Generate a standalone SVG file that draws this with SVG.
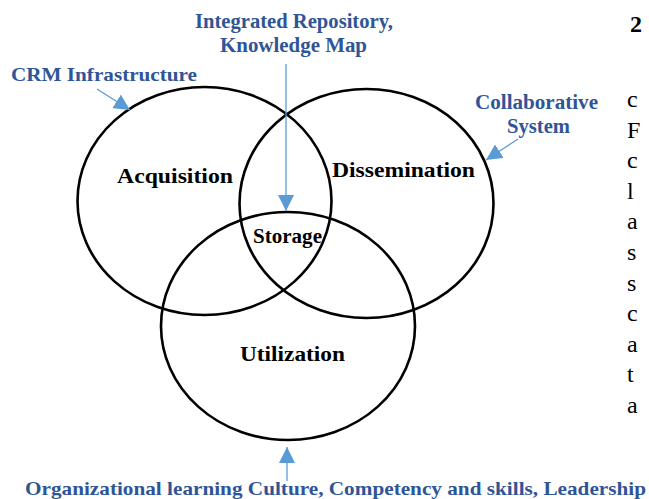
<svg xmlns="http://www.w3.org/2000/svg" width="649" height="499" viewBox="0 0 649 499">
  <style>
    .ring { fill: none; stroke: #000; stroke-width: 2.6; }
    .lbl { font-family: "Liberation Serif", "Times New Roman", serif; font-weight: bold; fill: #000; text-anchor: start; }
    .note { font-family: "Liberation Serif", "Times New Roman", serif; font-weight: bold; fill: #2F5597; }
    .body { font-family: "Liberation Serif", "Times New Roman", serif; font-size: 24px; fill: #000; }
    .conn { stroke: #5B9BD5; stroke-width: 1.3; fill: none; marker-end: url(#head); }
  </style>
  <defs>
    <marker id="head" viewBox="0 0 16 16" refX="16" refY="8" markerWidth="16" markerHeight="16" markerUnits="userSpaceOnUse" orient="auto">
      <path d="M0,0 L16,8 L0,16 z" fill="#5B9BD5"/>
    </marker>
  </defs>
  <rect width="649" height="499" fill="#fff"/>

  <!-- three overlapping knowledge-process circles -->
  <g id="acquisition">
    <ellipse class="ring" cx="204.5" cy="201" rx="127" ry="114"/>
    <text class="lbl" x="117" y="183" font-size="22" textLength="116" lengthAdjust="spacingAndGlyphs">Acquisition</text>
  </g>
  <g id="dissemination">
    <ellipse class="ring" cx="366.5" cy="203.5" rx="127" ry="114.5"/>
    <text class="lbl" x="332" y="177" font-size="22" textLength="143" lengthAdjust="spacingAndGlyphs">Dissemination</text>
  </g>
  <g id="utilization">
    <ellipse class="ring" cx="288" cy="326" rx="127" ry="114"/>
    <text class="lbl" x="240" y="361" font-size="22" textLength="105" lengthAdjust="spacingAndGlyphs">Utilization</text>
  </g>
  <g id="storage">
    <text class="lbl" x="253" y="243" font-size="20" textLength="69" lengthAdjust="spacingAndGlyphs">Storage</text>
  </g>

  <!-- enabler labels -->
  <g id="repository">
    <text class="note" x="195" y="28" font-size="20" textLength="198" lengthAdjust="spacingAndGlyphs">Integrated Repository,</text>
    <text class="note" x="220" y="52" font-size="20" textLength="147" lengthAdjust="spacingAndGlyphs">Knowledge Map</text>
  </g>
  <g id="crm">
    <text class="note" x="11" y="81" font-size="19.5" textLength="186" lengthAdjust="spacingAndGlyphs">CRM Infrastructure</text>
  </g>
  <g id="collaborative">
    <text class="note" x="475" y="109" font-size="20" textLength="123" lengthAdjust="spacingAndGlyphs">Collaborative</text>
    <text class="note" x="507" y="133" font-size="20" textLength="63" lengthAdjust="spacingAndGlyphs">System</text>
  </g>
  <g id="culture">
    <text class="note" x="25" y="495" font-size="19.5" textLength="621" lengthAdjust="spacingAndGlyphs">Organizational learning Culture, Competency and skills, Leadership</text>
  </g>

  <!-- connectors -->
  <g id="connectors">
    <line class="conn" x1="286" y1="64" x2="286" y2="211"/>
    <line class="conn" x1="97" y1="89" x2="130" y2="110"/>
    <line class="conn" x1="518" y1="139" x2="486" y2="160"/>
    <line class="conn" x1="287" y1="481" x2="287" y2="447"/>
  </g>

  <!-- page text running beside the figure -->
  <g id="page-text">
    <text x="630" y="32" font-family="Liberation Serif, serif" font-weight="bold" font-size="24">2</text>
    <text class="body" x="627" y="107">c</text>
    <text class="body" x="627" y="138">F</text>
    <text class="body" x="627" y="168">c</text>
    <text class="body" x="627" y="199">l</text>
    <text class="body" x="627" y="229">a</text>
    <text class="body" x="627" y="260">s</text>
    <text class="body" x="627" y="291">s</text>
    <text class="body" x="627" y="321">c</text>
    <text class="body" x="627" y="352">a</text>
    <text class="body" x="627" y="382">t</text>
    <text class="body" x="627" y="413">a</text>
  </g>
</svg>
